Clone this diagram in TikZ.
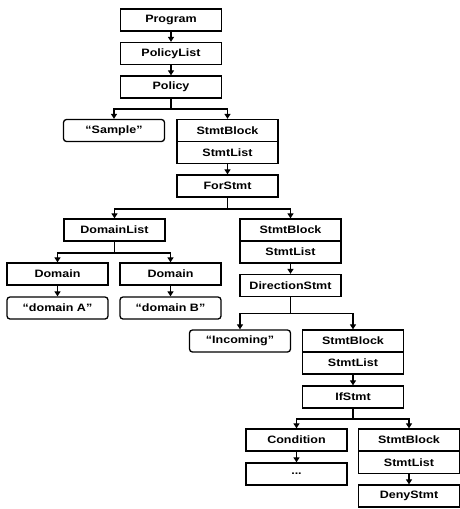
\documentclass[tikz,border=0pt]{standalone}
\usepackage{fontspec}
\setmainfont{Liberation Sans}[FakeStretch=1.17]
\usetikzlibrary{arrows.meta}
\begin{document}
\begin{tikzpicture}[x=1pt,y=-1pt,
  box/.style={draw, line width=1.3pt, minimum width=101pt, minimum height=22pt, inner sep=0pt,
    font=\fontsize{10.7}{12}\selectfont\bfseries},
  lit/.style={box, rounded corners=3pt},
  arr/.style={line width=1.5pt, -{Triangle[length=5pt,width=6pt]}},
  bus/.style={line width=1.5pt, -{Triangle[length=5pt,width=6pt]}}]
\useasboundingbox (0,0) rectangle (460,509);
\node[box] (prog) at (171,20) {Program};
\node[box] (plist) at (171,53.5) {PolicyList};
\node[box] (pol) at (171,87) {Policy};
\node[lit] (sample) at (114,130.5) {“Sample”};
\node[box] (sb1) at (227.5,130.5) {StmtBlock};
\node[box] (sl1) at (227.5,152.5) {StmtList};
\node[box] (for) at (227.5,186) {ForStmt};
\node[box] (dl) at (114.5,230) {DomainList};
\node[box] (sb2) at (290.5,230) {StmtBlock};
\node[box] (sl2) at (290.5,252) {StmtList};
\node[box] (da) at (57.5,274) {Domain};
\node[box] (db) at (170.5,274) {Domain};
\node[lit] (sa) at (57.5,308) {“domain A”};
\node[lit] (sb) at (170.5,308) {“domain B”};
\node[box] (dir) at (290.5,285.5) {DirectionStmt};
\node[lit] (inc) at (240,341) {“Incoming”};
\node[box] (sb3) at (353,341) {StmtBlock};
\node[box] (sl3) at (353,363) {StmtList};
\node[box] (if) at (353,397) {IfStmt};
\node[box] (cond) at (296.5,440) {Condition};
\node[box] (dots) at (296.5,474) {...};
\node[box] (sb4) at (409,440) {StmtBlock};
\node[box] (sl4) at (409,462.5) {StmtList};
\node[box] (deny) at (409,496) {DenyStmt};
\draw[arr] (prog) -- (plist);
\draw[arr] (plist) -- (pol);
\draw[arr] (sl1) -- (for);
\draw[arr] (da) -- (sa);
\draw[arr] (db) -- (sb);
\draw[arr] (sl2) -- (dir);
\draw[arr] (sl3) -- (if);
\draw[arr] (cond) -- (dots);
\draw[arr] (sl4) -- (deny);
\draw[bus] (pol.south) -- ++(0,10.5) -| (sample.north);
\draw[bus] (pol.south) -- ++(0,10.5) -| (sb1.north);
\draw[bus] (for.south) -- ++(0,11.5) -| (dl.north);
\draw[bus] (for.south) -- ++(0,11.5) -| (sb2.north);
\draw[bus] (dl.south) -- ++(0,11.5) -| (da.north);
\draw[bus] (dl.south) -- ++(0,11.5) -| (db.north);
\draw[bus] (dir.south) -- ++(0,16.5) -| (inc.north);
\draw[bus] (dir.south) -- ++(0,16.5) -| (sb3.north);
\draw[bus] (if.south) -- ++(0,10.5) -| (cond.north);
\draw[bus] (if.south) -- ++(0,10.5) -| (sb4.north);
\end{tikzpicture}
\end{document}
